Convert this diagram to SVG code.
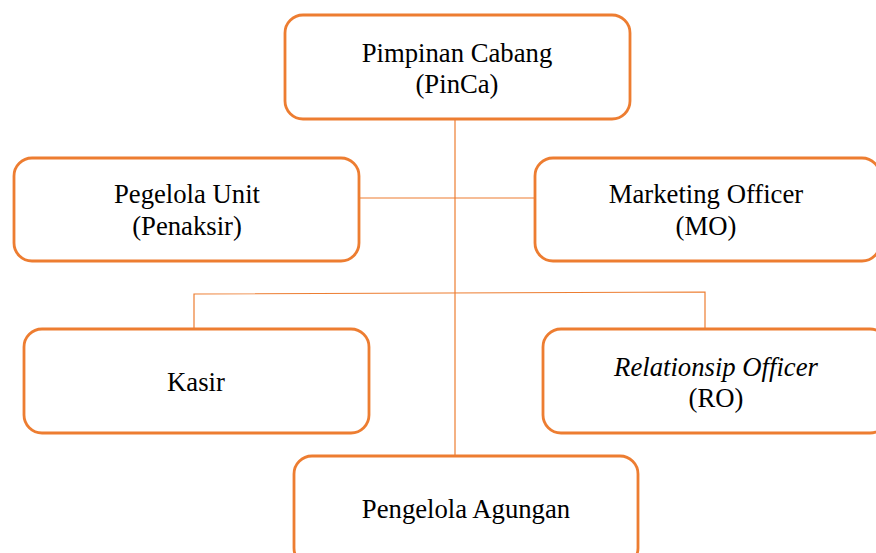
<svg xmlns="http://www.w3.org/2000/svg" width="876" height="553" viewBox="0 0 876 553">
<style>
.box{fill:#fff;stroke:#ED7D31;stroke-width:2.8}
.t{font-family:'Liberation Serif',Tinos,'Times New Roman',Times,'DejaVu Serif',serif;font-size:26.7px;fill:#000;text-anchor:middle}
.i{font-style:italic}
.c{stroke:#ED7D31;stroke-width:1.2;fill:none}
</style>
<rect width="876" height="553" fill="#fff"/>
<g id="connectors">
<line class="c" x1="455" y1="119" x2="455" y2="456"/>
<line class="c" x1="359" y1="198" x2="535" y2="198"/>
<polyline class="c" points="194,329 194,294 705,292 705,329"/>
</g>
<g id="pinca">
<rect class="box" x="285" y="15" width="345" height="104" rx="18"/>
<text class="t" x="457" y="62">Pimpinan Cabang</text>
<text class="t" x="457" y="93">(PinCa)</text>
</g>
<g id="penaksir">
<rect class="box" x="14" y="158" width="345" height="103" rx="18"/>
<text class="t" x="187" y="203">Pegelola Unit</text>
<text class="t" x="187" y="235">(Penaksir)</text>
</g>
<g id="mo">
<rect class="box" x="535" y="158" width="345" height="103" rx="18"/>
<text class="t" x="706" y="203">Marketing Officer</text>
<text class="t" x="706" y="235">(MO)</text>
</g>
<g id="kasir">
<rect class="box" x="24" y="329" width="345" height="104" rx="18"/>
<text class="t" x="196" y="391">Kasir</text>
</g>
<g id="ro">
<rect class="box" x="543" y="329" width="345" height="104" rx="18"/>
<text class="t i" x="716" y="376">Relationsip Officer</text>
<text class="t" x="716" y="407">(RO)</text>
</g>
<g id="agungan">
<rect class="box" x="294" y="456" width="344" height="110" rx="18"/>
<text class="t" x="466" y="518">Pengelola Agungan</text>
</g>
</svg>
